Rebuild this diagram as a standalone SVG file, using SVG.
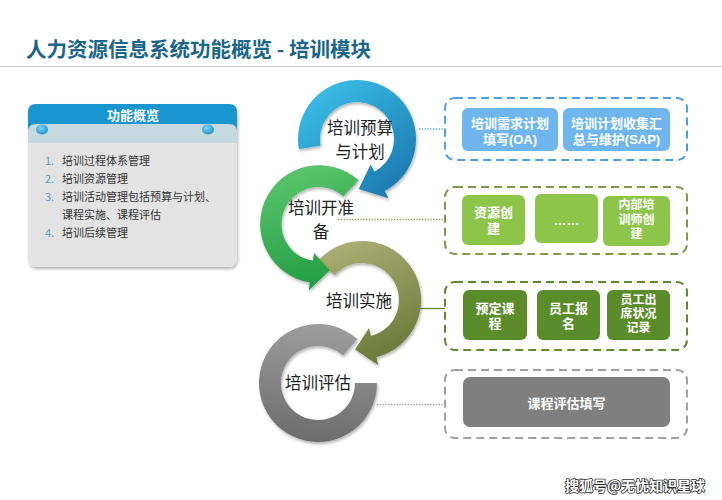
<svg xmlns="http://www.w3.org/2000/svg" width="722" height="500" viewBox="0 0 722 500">
<style>
.cjk{font-family:"Noto Sans CJK SC","Noto Sans",sans-serif}
.ring{font-family:"Noto Sans CJK SC",sans-serif;font-size:16.5px;fill:#1e1e1e;text-anchor:middle}
.bt{font-family:"Liberation Sans","Noto Sans CJK SC",sans-serif;font-size:13px;font-weight:bold;fill:#ffffff;text-anchor:middle}
.bs{font-size:12px}
.li{font-family:"Noto Sans CJK SC",sans-serif;font-size:11px;fill:#333333}
.num{font-family:"Noto Sans CJK SC",sans-serif;font-size:11px;fill:#4aa0c8}
.dot{fill:none;stroke-width:1.3;stroke-dasharray:1.3 1.5}
</style>
<defs>
<filter id="sh" x="-20%" y="-20%" width="140%" height="140%"><feDropShadow dx="1" dy="2" stdDeviation="1.5" flood-color="#000" flood-opacity="0.3"/></filter>
<linearGradient id="gb" gradientUnits="userSpaceOnUse" x1="300" y1="85" x2="390" y2="200"><stop offset="0" stop-color="#3dc3ec"/><stop offset="1" stop-color="#1c78ae"/></linearGradient>
<linearGradient id="gg" gradientUnits="userSpaceOnUse" x1="290" y1="165" x2="330" y2="290"><stop offset="0" stop-color="#5cc66c"/><stop offset="1" stop-color="#1f9a44"/></linearGradient>
<linearGradient id="go" gradientUnits="userSpaceOnUse" x1="330" y1="245" x2="380" y2="365"><stop offset="0" stop-color="#abaf76"/><stop offset="1" stop-color="#6a7836"/></linearGradient>
<linearGradient id="gy" gradientUnits="userSpaceOnUse" x1="330" y1="325" x2="318" y2="442"><stop offset="0" stop-color="#9e9e9e"/><stop offset="1" stop-color="#6c6c6c"/></linearGradient>
<radialGradient id="gc" cx="0.4" cy="0.35" r="0.7"><stop offset="0" stop-color="#7fd6f5"/><stop offset="1" stop-color="#1590c8"/></radialGradient>
</defs>
<rect width="722" height="500" fill="#ffffff"/>
<g id="title">
<text x="26" y="57" class="cjk" font-size="20.5" font-weight="bold" fill="#1a6688">人力资源信息系统功能概览 - 培训模块</text>
<line x1="0" y1="66.5" x2="722" y2="66.5" stroke="#c8c8c8" stroke-width="1"/>
</g>
<g id="overview">
<rect x="28" y="104" width="209" height="163" rx="8" fill="#e3e3e3" filter="url(#sh)"/>
<path d="M28,134 V112 Q28,104 36,104 H229 Q237,104 237,112 V134 Z" fill="#1a96cf"/>
<path d="M28,143 V132 Q28,124 36,124 H229 Q237,124 237,132 V143 Z" fill="#c6d8e0"/>
<ellipse cx="42" cy="129.5" rx="6" ry="5" fill="url(#gc)"/>
<ellipse cx="208" cy="129.5" rx="6" ry="5" fill="url(#gc)"/>
<text x="133" y="120" class="cjk" font-size="13" font-weight="bold" fill="#ffffff" text-anchor="middle">功能概览</text>
<text x="45" y="165" class="num">1.</text><text x="62" y="165" class="li">培训过程体系管理</text>
<text x="45" y="183" class="num">2.</text><text x="62" y="183" class="li">培训资源管理</text>
<text x="45" y="201" class="num">3.</text><text x="62" y="201" class="li">培训活动管理包括预算与计划、</text>
<text x="62" y="219" class="li">课程实施、课程评估</text>
<text x="45" y="237" class="num">4.</text><text x="62" y="237" class="li">培训后续管理</text>
</g>
<g id="connectors">
<line x1="419" y1="129" x2="445" y2="129" class="dot" stroke="#5aa0d8"/>
<line x1="338" y1="219.5" x2="445" y2="219.5" class="dot" stroke="#8aa050"/>
<line x1="418" y1="308.5" x2="445" y2="308.5" stroke="#5c8a30" stroke-width="1.3"/>
<line x1="377" y1="404.5" x2="445" y2="404.5" class="dot" stroke="#9a9a9a"/>
</g>
<g id="step-evaluate">
<path d="M377,383 A59,59 0 1 1 357.5,339.2 L342.8,355.5 A37,37 0 1 0 355,383 Z" fill="url(#gy)" filter="url(#sh)"/>
<text x="318" y="389" class="ring">培训评估</text>
</g>
<g id="step-implement">
<path d="M318.2,260.5 A59,59 0 1 1 376.3,357.2 L378.2,365 L355,349.5 L369,328.1 L371,335.9 A37,37 0 1 0 334.5,275.2 Z" fill="url(#go)" filter="url(#sh)"/>
<text x="359" y="307" class="ring">培训实施</text>
</g>
<g id="step-prepare">
<path d="M358.5,180.2 A59,59 0 1 0 309.8,282.4 L308.7,290.4 L329.6,270.6 L314,252.7 L312.8,260.6 A37,37 0 1 1 343.2,196.5 Z" fill="url(#gg)" filter="url(#sh)"/>
<text x="321" y="214" class="ring">培训开准</text>
<text x="321" y="238" class="ring">备</text>
</g>
<g id="step-plan">
<path d="M298.9,149.2 A59,59 0 1 1 384.7,191.1 L388.5,198.2 L358.7,189 L370.6,164.6 L374.4,171.7 A37,37 0 1 0 320.6,145.4 Z" fill="url(#gb)" filter="url(#sh)"/>
<text x="360" y="134" class="ring">培训预算</text>
<text x="360" y="158" class="ring">与计划</text>
</g>
<g id="box-plan">
<rect x="445" y="98" width="242" height="62" rx="10" fill="none" stroke="#4a9fe6" stroke-width="2" stroke-dasharray="8 5"/>
<rect x="462" y="108" width="96" height="43" rx="6" fill="#6fb6ef"/>
<rect x="563" y="108" width="107" height="43" rx="6" fill="#6fb6ef"/>
<text x="510" y="127.5" class="bt">培训需求计划</text><text x="510" y="143.5" class="bt">填写(OA)</text>
<text x="616.5" y="127.5" class="bt">培训计划收集汇</text><text x="616.5" y="143.5" class="bt">总与维护(SAP)</text>
</g>
<g id="box-prepare">
<rect x="445" y="187" width="242" height="67" rx="10" fill="none" stroke="#7a9a45" stroke-width="2" stroke-dasharray="8 5"/>
<rect x="462" y="195" width="63" height="50" rx="6" fill="#8cc54a"/>
<rect x="535" y="194" width="63" height="49" rx="6" fill="#8cc54a"/>
<rect x="603" y="196" width="67" height="50" rx="6" fill="#8cc54a"/>
<text x="493.5" y="217" class="bt">资源创</text><text x="493.5" y="233" class="bt">建</text>
<text x="566.5" y="225" class="bt">……</text>
<text x="636.5" y="209" class="bt bs">内部培</text><text x="636.5" y="223.5" class="bt bs">训师创</text><text x="636.5" y="238" class="bt bs">建</text>
</g>
<g id="box-implement">
<rect x="445" y="282" width="242" height="68" rx="10" fill="none" stroke="#5c8a30" stroke-width="2" stroke-dasharray="8 5"/>
<rect x="463" y="290" width="64" height="50" rx="6" fill="#5b8c2a"/>
<rect x="537" y="290" width="63" height="50" rx="6" fill="#5b8c2a"/>
<rect x="607" y="290" width="63" height="50" rx="6" fill="#5b8c2a"/>
<text x="495" y="313" class="bt">预定课</text><text x="495" y="328" class="bt">程</text>
<text x="568.5" y="313" class="bt">员工报</text><text x="568.5" y="328" class="bt">名</text>
<text x="638.5" y="304" class="bt bs">员工出</text><text x="638.5" y="318" class="bt bs">席状况</text><text x="638.5" y="332" class="bt bs">记录</text>
</g>
<g id="box-evaluate">
<rect x="445" y="370" width="242" height="68" rx="10" fill="none" stroke="#a0a0a0" stroke-width="2" stroke-dasharray="8 5"/>
<rect x="463" y="377" width="207" height="50" rx="7" fill="#7f7f7f"/>
<text x="566.5" y="408" class="bt">课程评估填写</text>
</g>
<g id="watermark">
<text x="565" y="491" class="cjk" font-size="14" font-weight="bold" fill="#ffffff" stroke="#2a2a2a" stroke-width="1.6" paint-order="stroke" stroke-linejoin="round">搜狐号@无忧知识星球</text>
</g>
</svg>
